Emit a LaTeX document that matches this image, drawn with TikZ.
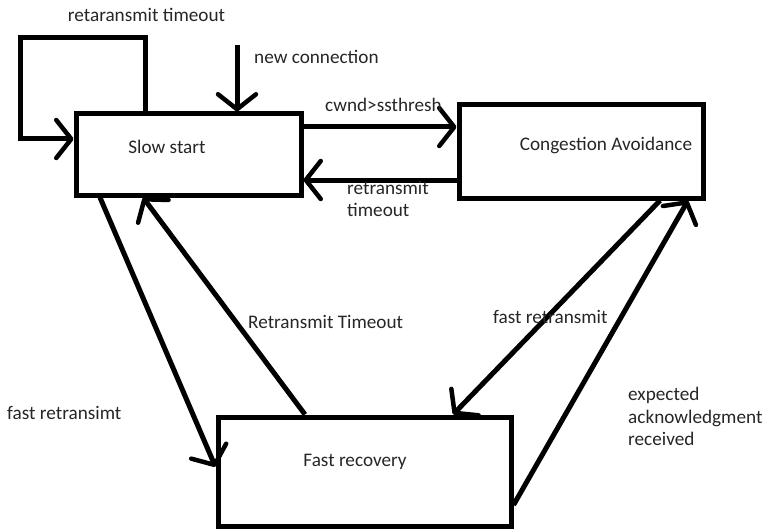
\documentclass[tikz,border=0pt]{standalone}
\usepackage{fontspec}
\setmainfont{Carlito}
\usetikzlibrary{arrows.meta}
\begin{document}
\begin{tikzpicture}[x=1pt,y=-1pt,
  box/.style={draw,line width=5pt,inner sep=0pt},
  lbl/.style={font=\fontsize{19.2}{22.5}\selectfont,inner sep=0pt,text=black!85},
  arr/.style={line width=5pt,-{Straight Barb[length=15pt,width=38pt,line width=4.5pt,round]}}]
\useasboundingbox (0,0) rectangle (768,532);
% states
\node[box,minimum width=225pt,minimum height=81pt] (ss) at (188.5,154.5) {};
\node[box,minimum width=244pt,minimum height=93pt] (ca) at (581,151.5) {};
\node[box,minimum width=293pt,minimum height=109pt] (fr) at (364.5,471.5) {};
\node[lbl] (sst) at (167,147) {Slow start};
\node[lbl] (cat) at (606,145) {Congestion Avoidance};
\node[lbl] (frt) at (355,462) {Fast recovery};
% helper coordinates
\coordinate (l1) at (145,38);
\coordinate (l2) at (20,38);
\coordinate (l3) at (20,139);
\coordinate (nc) at (237,45);
\coordinate (a1) at (0,127);
\coordinate (a2) at (0,180);
\coordinate (b1) at (100,0);
\coordinate (b2) at (0,467);
\coordinate (c1) at (305,0);
\coordinate (c2) at (143,0);
\coordinate (d1) at (660,0);
\coordinate (d2) at (453,0);
\coordinate (e1) at (0,505);
\coordinate (e2) at (688,0);
% connectors
\draw[arr,line join=miter] (ss.north -| l1) -- (l1) -- (l2) -- (l3) -- (ss.west |- l3);
\draw[arr] (nc) -- (ss.north -| nc);
\draw[arr] (ss.east |- a1) -- (ca.west |- a1);
\draw[arr] (ca.west |- a2) -- (ss.east |- a2);
\draw[arr] (ss.south -| b1) -- (fr.west |- b2);
\draw[arr] (fr.north -| c1) -- (ss.south -| c2);
\draw[arr] (ca.south -| d1) -- (fr.north -| d2);
\draw[arr] (fr.east |- e1) -- (ca.south -| e2);
% labels
\node[lbl] (t1) at (146.5,15) {retaransmit timeout};
\node[lbl,anchor=west] (t2) at (254,57) {new connection};
\node[lbl,anchor=west] (t3) at (325,105) {cwnd>ssthresh};
\node[lbl,anchor=north west,align=left] (t4) at (347,181) {retransmit\\timeout};
\node[lbl,anchor=west] (t5) at (493,317) {fast retransmit};
\node[lbl,anchor=north west,align=left] (t6) at (628,387) {expected\\acknowledgment\\received};
\node[lbl,anchor=west] (t7) at (248,322) {Retransmit Timeout};
\node[lbl,anchor=west] (t8) at (7,413) {fast retransimt};
\end{tikzpicture}
\end{document}
